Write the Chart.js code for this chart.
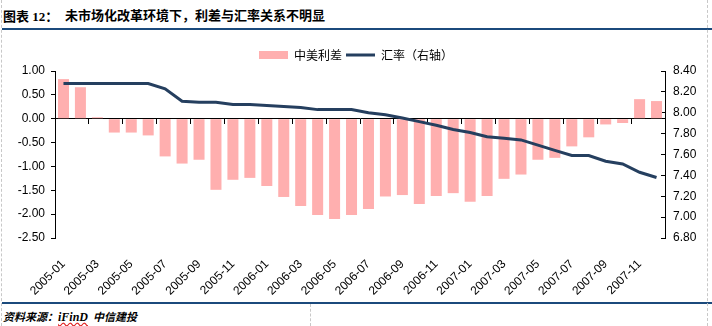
<!DOCTYPE html>
<html>
<head>
<meta charset="utf-8">
<script src="https://cdn.jsdelivr.net/npm/chart.js@4"></script>
<style>
  html, body { margin: 0; padding: 0; background: #fff; }
  #wrap { position: relative; width: 712px; height: 326px; overflow: hidden; }
  #wrap:before { content: ''; position: absolute; left: 1px; top: 0; height: 326px; border-left: 1px dashed #c8c8c8; }
  #wrap:after { content: ''; position: absolute; left: 707px; top: 0; height: 326px; border-left: 1px dashed #c8c8c8; }
  #title { position: absolute; left: 3px; top: 5px; height: 20px; width: 700px; font-weight: bold; color: #000; }
  #title .lab { position: absolute; left: 0; top: 1px; font: bold 13px "Liberation Serif", "Noto Sans CJK SC", serif; }
  #title .txt { position: absolute; left: 62px; top: 0; font: bold 13px "Noto Sans CJK SC", sans-serif; }
  #topline { position: absolute; left: 2px; top: 28px; width: 710px; height: 2px; background: #1b4a7c; }
  #chartbox { position: absolute; left: 0; top: 30px; width: 712px; height: 272px; }
  #botline { position: absolute; left: 2px; top: 302px; width: 710px; height: 2px; background: #1b4a7c; }
  #midline { position: absolute; left: 310px; top: 304px; height: 22px; border-left: 1px dashed #c8c8c8; }
  #src { position: absolute; left: 3px; top: 308px; font: italic bold 11px "Noto Sans CJK SC", sans-serif; color: #000; }
  #src .u { font-family: "Liberation Serif", serif; font-size: 12px; text-decoration: underline wavy #e02020; }
</style>
</head>
<body>
<div id="wrap">
  <div id="title"><span class="lab">图表 12：</span><span class="txt">未市场化改革环境下，利差与汇率关系不明显</span></div>
  <div id="topline"></div>
  <div id="chartbox"><canvas id="c" width="712" height="272"></canvas></div>
  <div id="botline"></div>
  <div id="midline"></div>
  <div id="src">资料来源：<span class="u">iFinD</span>&nbsp; 中信建投</div>
</div>
<script>
// 月份 2005-01 ~ 2007-12
const months = [
  '2005-01','2005-02','2005-03','2005-04','2005-05','2005-06','2005-07','2005-08','2005-09','2005-10','2005-11','2005-12',
  '2006-01','2006-02','2006-03','2006-04','2006-05','2006-06','2006-07','2006-08','2006-09','2006-10','2006-11','2006-12',
  '2007-01','2007-02','2007-03','2007-04','2007-05','2007-06','2007-07','2007-08','2007-09','2007-10','2007-11','2007-12'
];

// 中美利差 (左轴)
const spread = [
  0.83, 0.66, 0.03, -0.29, -0.29, -0.35, -0.79, -0.94, -0.86, -1.49, -1.28, -1.24,
  -1.41, -1.64, -1.83, -2.02, -2.10, -2.02, -1.89, -1.63, -1.60, -1.79, -1.62, -1.56,
  -1.74, -1.62, -1.26, -1.17, -0.86, -0.82, -0.58, -0.39, -0.12, -0.09, 0.41, 0.37
];

// 汇率 (右轴)
const fxRate = [
  8.28, 8.28, 8.28, 8.28, 8.28, 8.28, 8.23, 8.11, 8.10, 8.10, 8.08, 8.08,
  8.07, 8.06, 8.05, 8.03, 8.03, 8.03, 8.00, 7.98, 7.95, 7.915, 7.88, 7.84,
  7.81, 7.77, 7.755, 7.74, 7.69, 7.64, 7.59, 7.59, 7.535, 7.51, 7.43, 7.38
];

const seriesNames = ['中美利差', '汇率（右轴）'];

const tickFont = { family: '"Liberation Sans", Arial, sans-serif', size: 12 };

new Chart(document.getElementById('c'), {
  type: 'bar',
  data: {
    labels: months,
    datasets: [
      {
        label: seriesNames[0],
        data: spread,
        backgroundColor: '#ffafaf',
        borderWidth: 0,
        barPercentage: 0.65,
        categoryPercentage: 1,
        yAxisID: 'y',
        order: 1
      },
      {
        label: seriesNames[1],
        data: fxRate,
        type: 'line',
        borderColor: '#253f5f',
        backgroundColor: '#253f5f',
        borderWidth: 3,
        pointRadius: 0,
        tension: 0,
        fill: false,
        yAxisID: 'y1',
        order: 0
      }
    ]
  },
  options: {
    responsive: false,
    animation: false,
    layout: { padding: { top: 15, bottom: 2, left: 0, right: 0 } },
    plugins: {
      tooltip: { enabled: false },
      legend: {
        position: 'top',
        labels: {
          usePointStyle: true,
          pointStyleWidth: 29,
          boxHeight: 8,
          padding: 4,
          color: '#000',
          font: { family: '"Noto Sans CJK SC", sans-serif', size: 12 },
          generateLabels(chart) {
            const items = Chart.defaults.plugins.legend.labels.generateLabels(chart);
            items.sort((a, b) => a.datasetIndex - b.datasetIndex);
            items.forEach(it => {
              if (it.datasetIndex === 0) { it.pointStyle = 'rect'; it.lineWidth = 0; }
              else { it.pointStyle = 'line'; it.lineWidth = 3; }
            });
            return items;
          }
        }
      }
    },
    scales: {
      x: {
        type: 'category',
        offset: true,
        grid: { display: false, offset: true },
        border: { display: false },
        afterFit: s => { s.height = 62; },
        ticks: {
          autoSkip: false,
          maxRotation: 45,
          minRotation: 45,
          padding: 11,
          color: '#000',
          font: tickFont,
          callback: function (val, index) {
            return index % 2 === 0 ? this.getLabelForValue(val) : '';
          }
        }
      },
      x2: {
        type: 'category',
        labels: months,
        offset: true,
        position: { y: 0 },
        grid: {
          offset: true,
          drawOnChartArea: false,
          drawTicks: true,
          tickLength: 5,
          color: ctx => (ctx.index % 2 === 0 ? '#000' : 'rgba(0,0,0,0)')
        },
        border: { display: true, color: '#000', width: 1 },
        ticks: { display: false }
      },
      y: {
        position: 'left',
        min: -2.5,
        max: 1,
        afterFit: s => { s.width = 55; },
        grid: { drawOnChartArea: false, drawTicks: true, tickLength: 4, color: '#000' },
        border: { display: true, color: '#000', width: 1 },
        ticks: {
          stepSize: 0.5,
          padding: 6,
          color: '#000',
          font: tickFont,
          callback: v => v.toFixed(2)
        }
      },
      y1: {
        position: 'right',
        min: 6.8,
        max: 8.4,
        afterFit: s => { s.width = 47; },
        grid: { drawOnChartArea: false, drawTicks: true, tickLength: -4, color: '#000' },
        border: { display: true, color: '#000', width: 1 },
        ticks: {
          stepSize: 0.2,
          padding: 12,
          color: '#000',
          font: tickFont,
          callback: v => v.toFixed(2)
        }
      }
    }
  }
});
</script>
</body>
</html>
